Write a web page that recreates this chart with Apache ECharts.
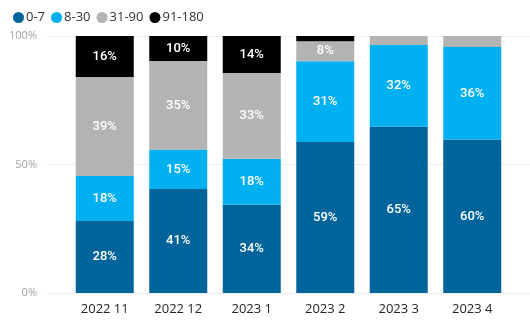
<!DOCTYPE html>
<html>
<head>
<meta charset="utf-8">
<script src="https://cdn.jsdelivr.net/npm/echarts@6/dist/echarts.min.js"></script>
<style>
  html, body { margin: 0; padding: 0; background: #fff; }
  #chart { width: 530px; height: 323px; }
</style>
</head>
<body>
<div id="chart"></div>
<script>
// Months on the x axis
const months = ['2022 11', '2022 12', '2023 1', '2023 2', '2023 3', '2023 4'];

// Share of items per age bucket (percent of each month)
const bucketNames = ['0-7', '8-30', '31-90', '91-180'];
const days0to7 = [28.0, 40.5, 34.3, 58.8, 64.7, 59.7];
const days8to30 = [17.5, 15.3, 17.9, 31.4, 31.8, 36.0];
const days31to90 = [38.5, 34.5, 33.4, 7.8, 3.5, 4.3];
const days91to180 = [16.0, 9.7, 14.4, 2.0, 0, 0];

// Percent axis ticks
const percentTicks = [0, 50, 100];

const palette = ['#01659b', '#00b0f0', '#b3b3b3', '#000000'];
const seriesValues = [days0to7, days8to30, days31to90, days91to180];

const uiFont = '"Open Sans", "Noto Sans", sans-serif';

const chart = echarts.init(document.getElementById('chart'), null, { renderer: 'canvas' });

const series = bucketNames.map((name, i) => ({
  name: name,
  type: 'bar',
  stack: 'share',
  xAxisIndex: 1,
  yAxisIndex: 1,
  barWidth: 58,
  itemStyle: { color: palette[i] },
  emphasis: { disabled: true },
  label: {
    show: true,
    position: 'inside',
    color: '#ffffff',
    fontFamily: 'Roboto, sans-serif',
    fontSize: 13,
    fontWeight: 500,
    formatter: p => (p.value >= 5 ? Math.round(p.value) + '%' : '')
  },
  data: seriesValues[i]
}));

const option = {
  animation: false,
  backgroundColor: '#ffffff',
  legend: {
    data: bucketNames,
    left: 8,
    top: 6,
    icon: 'circle',
    itemWidth: 11,
    itemHeight: 11,
    itemGap: 6,
    textStyle: {
      fontFamily: uiFont,
      fontSize: 13,
      color: '#333333',
      padding: [0, 0, 0, -3]
    }
  },
  grid: [
    // full-width grid that carries the percent labels and gridlines
    { left: 47, right: 0, top: 36, bottom: 30 },
    // grid holding the bars
    { left: 68, right: 21, top: 36, bottom: 30 }
  ],
  xAxis: [
    { type: 'value', gridIndex: 0, show: false, min: 0, max: 1 },
    {
      type: 'category',
      gridIndex: 1,
      data: months,
      axisLine: { show: false },
      axisTick: { show: false },
      axisLabel: {
        color: '#252423',
        fontFamily: uiFont,
        fontSize: 13,
        margin: 10
      }
    }
  ],
  yAxis: [
    {
      type: 'value',
      gridIndex: 0,
      min: 0,
      max: 100,
      interval: 50,
      axisLine: { show: false },
      axisTick: { show: false },
      splitLine: { show: true, lineStyle: { color: '#ededed', width: 1 } },
      axisLabel: {
        color: '#a0a0a0',
        fontFamily: uiFont,
        fontSize: 11,
        margin: 10,
        formatter: v => (percentTicks.includes(v) ? v + '%' : '')
      }
    },
    { type: 'value', gridIndex: 1, min: 0, max: 100, show: false }
  ],
  series: series
};

chart.setOption(option);
</script>
</body>
</html>
